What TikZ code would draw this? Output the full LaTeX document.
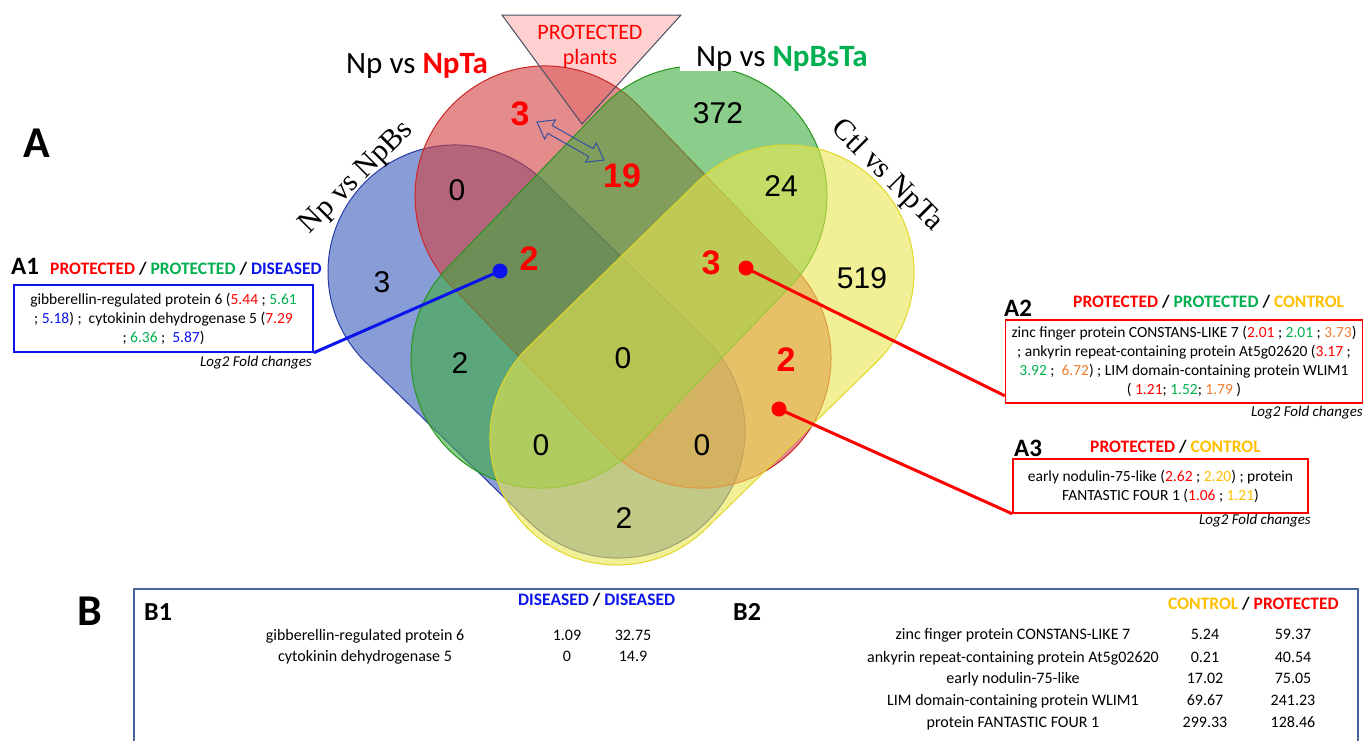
\documentclass[tikz,border=0pt]{standalone}
\usepackage{fontspec}
\setmainfont{Carlito}
\newfontfamily\arialf{Liberation Sans}
\newfontfamily\timesf{Liberation Serif}
\definecolor{tred}{RGB}{255,0,0}
\definecolor{tgreen}{RGB}{0,176,80}
\definecolor{tblue}{RGB}{10,20,235}
\definecolor{torange}{RGB}{237,125,49}
\definecolor{tgold}{RGB}{255,192,0}
\definecolor{vblue}{RGB}{58,92,187}
\definecolor{vbluel}{RGB}{40,60,170}
\definecolor{vred}{RGB}{210,63,63}
\definecolor{vredl}{RGB}{205,40,40}
\definecolor{vgreen}{RGB}{63,172,63}
\definecolor{vgreenl}{RGB}{40,150,30}
\definecolor{vyellow}{RGB}{233,230,80}
\definecolor{vyellowl}{RGB}{225,215,40}
\definecolor{tripink}{RGB}{255,208,208}
\definecolor{triline}{RGB}{70,80,100}
\definecolor{arrline}{RGB}{50,80,160}
\definecolor{bframe}{RGB}{70,100,160}
\newcommand{\txr}[1]{\textcolor{tred}{#1}}
\newcommand{\txg}[1]{\textcolor{tgreen}{#1}}
\newcommand{\txb}[1]{\textcolor{tblue}{#1}}
\newcommand{\txo}[1]{\textcolor{torange}{#1}}
\newcommand{\txy}[1]{\textcolor{tgold}{#1}}
\newcommand{\fs}[1]{\fontsize{#1}{#1}\selectfont}
\newcommand{\boxfont}{\fontsize{15.5}{19}\selectfont}
\begin{document}
\begin{tikzpicture}[x=1pt,y=-1pt,
  pill/.style={draw, line width=1pt, fill opacity=0.6, inner sep=0pt, outer sep=0pt},
  cnt/.style={font=\arialf\fs{30}, inner sep=0pt},
  rcnt/.style={font=\arialf\bfseries\fs{34}, text=tred, inner sep=0pt},
  abox/.style={align=center, inner sep=0pt, line width=1.5pt, font=\boxfont},
  hdr/.style={font=\bfseries\fs{17.5}, anchor=base west, inner sep=0pt},
  lbl/.style={font=\bfseries\fs{25}, anchor=base west, inner sep=0pt},
  logt/.style={font=\itshape\fs{15}, anchor=base east, inner sep=0pt},
  row/.style={font=\fs{16}, anchor=base, inner sep=0pt},
  dot/.style={circle, inner sep=0pt, minimum size=15pt},
  conn/.style={line width=3pt}
]
\useasboundingbox (0,0) rectangle (1365,740);
\clip (0,0) rectangle (1365,740);
\fill[white] (0,0) rectangle (1365,740);

% triangle fill (behind sets)
\coordinate (t1) at (502,15);
\coordinate (t2) at (681,15);
\coordinate (t3) at (582,124);
\fill[tripink] (t1) -- (t2) -- (t3) -- cycle;

% sets
\node[pill, fill=vblue, draw=vbluel, minimum width=481.7pt, minimum height=254pt, rounded corners=126.9pt, rotate=-44.3] (setblue) at (536.5,351.5) {};
\node[pill, fill=vred, draw=vredl, minimum width=484.9pt, minimum height=260pt, rounded corners=129.9pt, rotate=-46.1] (setred) at (623,277) {};
\node[pill, fill=vgreen, draw=vgreenl, minimum width=484.9pt, minimum height=260pt, rounded corners=129.9pt, rotate=46.1] (setgreen) at (619,277) {};
\node[pill, fill=vyellow, draw=vyellowl, minimum width=491.6pt, minimum height=254pt, rounded corners=126.9pt, rotate=44.3] (setyellow) at (702,355) {};

% triangle outline and text
\draw[triline, line width=1pt] (t1) -- (t2) -- (t3) -- cycle;
\node[font=\fs{22}, text=tred, inner sep=0pt] (prot) at (590,32) {PROTECTED};
\node[font=\fs{22}, text=tred, inner sep=0pt] (plants) at (590,59) {plants};

% double arrow
\begin{scope}[shift={(537,122)}, rotate=-29.6]
\draw[arrline, line width=1pt, line join=miter]
  (0,0) -- (15,-11) -- (15,-4.5) -- (62,-4.5) -- (62,-11) -- (77,0) -- (62,11) -- (62,4.5) -- (15,4.5) -- (15,11) -- cycle;
\end{scope}

% set labels
\node[font=\fs{31}, anchor=base west, inner sep=0pt] (lblnpta) at (346,73) {Np vs \textbf{\textcolor{tred}{NpTa}}};
\node[font=\fs{31}, anchor=base west, fill=white, inner xsep=16pt, inner ysep=0pt] (lblnpbsta) at (680,66) {Np vs \textbf{\textcolor{tgreen}{NpBsTa}}};
\node[font=\timesf\fs{30}, rotate=45, inner sep=0pt] (lblnpbs) at (357,178) {Np vs NpBs};
\node[font=\timesf\fs{30}, rotate=-45, inner sep=0pt] (lblctl) at (887,176) {Ctl vs NpTa};

% counts
\node[rcnt] (n1) at (520,114) {3};
\node[cnt] (n2) at (718,113) {372};
\node[cnt] (n3) at (457,190) {0};
\node[rcnt] (n4) at (622,176) {19};
\node[cnt] (n5) at (781,186) {24};
\node[cnt] (n6) at (382,282) {3};
\node[rcnt] (n7) at (529,259) {2};
\node[rcnt] (n8) at (711,263) {3};
\node[cnt] (n9) at (862,278) {519};
\node[cnt] (n10) at (460,363) {2};
\node[cnt] (n11) at (623,358) {0};
\node[rcnt] (n12) at (786,360) {2};
\node[cnt] (n13) at (541,445) {0};
\node[cnt] (n14) at (702,445) {0};
\node[cnt] (n15) at (624,518) {2};

% big letters
\node[font=\bfseries\fs{44}, anchor=base west, inner sep=0pt] (bigA) at (23,157) {A};
\node[font=\bfseries\fs{44}, anchor=base west, inner sep=0pt] (bigB) at (77,625) {B};

% A1
\node[lbl] (a1lbl) at (11,274) {A1};
\node[hdr] (a1hdr) at (50,274) {\txr{PROTECTED} / \txg{PROTECTED} / \txb{DISEASED}};
\node[abox, draw=tblue, minimum width=299pt, minimum height=67pt] (a1box) at (163.5,318.5)
  {gibberellin-regulated protein 6 (\txr{5.44} ; \txg{5.61}\\; \txb{5.18}) ;\ \ cytokinin dehydrogenase 5 (\txr{7.29}\\; \txg{6.36} ;\ \ \txb{5.87})};
\node[logt] (a1log) at (312,366) {Log2 Fold changes};

% A2
\node[lbl] (a2lbl) at (1004,316) {A2};
\node[hdr] (a2hdr) at (1073,307) {\txr{PROTECTED} / \txg{PROTECTED} / \txy{CONTROL}};
\node[abox, draw=tred, minimum width=357pt, minimum height=83pt] (a2box) at (1184,361.5)
  {zinc finger protein CONSTANS-LIKE 7 (\txr{2.01} ; \txg{2.01} ; \txo{3.73})\\; ankyrin repeat-containing protein At5g02620 (\txr{3.17} ;\\\txg{3.92} ;\ \ \txo{6.72}) ; LIM domain-containing protein WLIM1\\( \txr{1.21}; \txg{1.52}; \txo{1.79} )};
\node[logt] (a2log) at (1363,416) {Log2 Fold changes};

% A3
\node[lbl] (a3lbl) at (1014,456) {A3};
\node[hdr] (a3hdr) at (1090,452) {\txr{PROTECTED} / \txy{CONTROL}};
\node[abox, draw=tred, minimum width=295pt, minimum height=54pt] (a3box) at (1160.5,486)
  {early nodulin-75-like (\txr{2.62} ; \txy{2.20}) ; protein\\FANTASTIC FOUR 1 (\txr{1.06} ; \txy{1.21})};
\node[logt] (a3log) at (1311,524) {Log2 Fold changes};

% dots and connectors
\node[dot, fill=tblue] (d1) at (500,271) {};
\node[dot, fill=tred] (d2) at (746,268) {};
\node[dot, fill=tred] (d3) at (779,409) {};
\draw[conn, tblue] (d1.center) -- (a1box.south east);
\draw[conn, tred] (d2.center) -- ([yshift=8pt]a2box.south west);
\draw[conn, tred] (d3.center) -- (a3box.south west);

% B frame
\node[draw=bframe, line width=1.5pt, minimum width=1224pt, minimum height=180pt, inner sep=0pt, anchor=north west] (bbox) at (133,588) {};
\node[lbl, font=\bfseries\fs{26}] (b1lbl) at (144,620) {B1};
\node[hdr] (b1hdr) at (518,605) {\txb{DISEASED} / \txb{DISEASED}};
\node[row] (b1r1n) at (365,640) {gibberellin-regulated protein 6};
\node[row] (b1r1a) at (567,640) {1.09};
\node[row] (b1r1b) at (633,640) {32.75};
\node[row] (b1r2n) at (365,661) {cytokinin dehydrogenase 5};
\node[row] (b1r2a) at (567,661) {0};
\node[row] (b1r2b) at (633,661) {14.9};

\node[lbl, font=\bfseries\fs{26}] (b2lbl) at (733,620) {B2};
\node[hdr] (b2hdr) at (1168,609) {\txy{CONTROL} / \txr{PROTECTED}};
\node[row] (b2r1n) at (1013,639) {zinc finger protein CONSTANS-LIKE 7};
\node[row] (b2r1a) at (1205,639) {5.24};
\node[row] (b2r1b) at (1293,639) {59.37};
\node[row] (b2r2n) at (1013,662) {ankyrin repeat-containing protein At5g02620};
\node[row] (b2r2a) at (1205,662) {0.21};
\node[row] (b2r2b) at (1293,662) {40.54};
\node[row] (b2r3n) at (1013,683) {early nodulin-75-like};
\node[row] (b2r3a) at (1205,683) {17.02};
\node[row] (b2r3b) at (1293,683) {75.05};
\node[row] (b2r4n) at (1013,705) {LIM domain-containing protein WLIM1};
\node[row] (b2r4a) at (1205,705) {69.67};
\node[row] (b2r4b) at (1293,705) {241.23};
\node[row] (b2r5n) at (1013,727) {protein FANTASTIC FOUR 1};
\node[row] (b2r5a) at (1205,727) {299.33};
\node[row] (b2r5b) at (1293,727) {128.46};
\end{tikzpicture}
\end{document}
